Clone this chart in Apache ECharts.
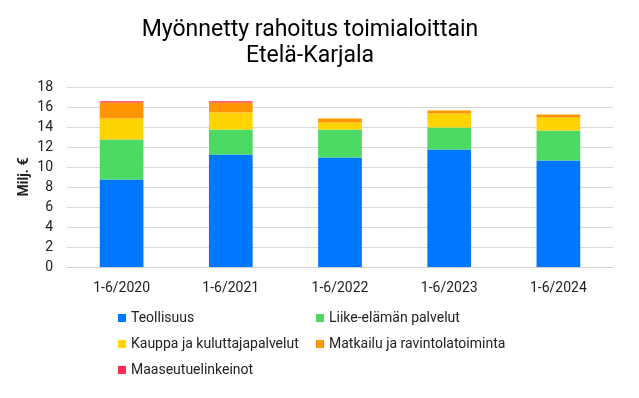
<!DOCTYPE html>
<html>
<head>
<meta charset="utf-8">
<script src="https://cdn.jsdelivr.net/npm/echarts@6/dist/echarts.min.js"></script>
<style>
  html, body { margin: 0; padding: 0; background: #fff; }
  #chart { width: 639px; height: 398px; }
</style>
</head>
<body>
<div id="chart"></div>
<script>
// kaudet ja toimialat
const periods = ['1-6/2020', '1-6/2021', '1-6/2022', '1-6/2023', '1-6/2024']
const teollisuus = [8.75, 11.25, 10.95, 11.75, 10.65]
const liike = [4.0, 2.5, 2.8, 2.2, 3.0]
const kauppa = [2.1, 1.7, 0.7, 1.4, 1.3]
const matkailu = [1.6, 1.0, 0.4, 0.3, 0.3]
const maaseutu = [0.12, 0.12, 0, 0, 0]
const yTicks = [0, 2, 4, 6, 8, 10, 12, 14, 16, 18]

const names = [
  'Teollisuus',
  'Liike-elämän palvelut',
  'Kauppa ja kuluttajapalvelut',
  'Matkailu ja ravintolatoiminta',
  'Maaseutuelinkeinot'
]
const values = [teollisuus, liike, kauppa, matkailu, maaseutu]
const colors = ['#0077ff', '#4cd964', '#ffd300', '#ff9500', '#ff2d55']

const font = 'Roboto, "Noto Sans", sans-serif'
const chart = echarts.init(document.getElementById('chart'))

const legendStyle = {
  orient: 'vertical',
  icon: 'rect',
  itemWidth: 8,
  itemHeight: 8,
  itemGap: 12,
  top: 306,
  textStyle: { fontFamily: font, fontSize: 14, color: '#222' }
}

chart.setOption({
  color: colors,
  animation: false,
  title: {
    text: 'Myönnetty rahoitus toimialoittain\nEtelä-Karjala',
    left: 305,
    top: 12,
    textAlign: 'center',
    textStyle: {
      fontFamily: font,
      fontSize: 23,
      fontWeight: 'normal',
      lineHeight: 26,
      color: '#000'
    }
  },
  legend: [
    Object.assign({ left: 113, data: [names[0], names[2], names[4]] }, legendStyle),
    Object.assign({ left: 311, data: [names[1], names[3]] }, legendStyle)
  ],
  grid: { left: 67, right: 26, top: 87, bottom: 131 },
  xAxis: {
    type: 'category',
    data: periods,
    axisLine: { show: true, lineStyle: { color: '#d0d0d0' } },
    axisTick: { show: false },
    axisLabel: { fontFamily: font, fontSize: 14, color: '#222', margin: 14 }
  },
  yAxis: {
    type: 'value',
    min: yTicks[0],
    max: yTicks[yTicks.length - 1],
    interval: 2,
    name: 'Milj. €',
    nameLocation: 'middle',
    nameGap: 36,
    nameMoveOverlap: false,
    nameTextStyle: { fontFamily: font, fontSize: 14, fontWeight: 'bold', color: '#222' },
    axisLine: { show: false },
    axisTick: { show: false },
    axisLabel: { fontFamily: font, fontSize: 14, color: '#222', margin: 14 },
    splitLine: { lineStyle: { color: '#d9d9d9', width: 1 } }
  },
  series: names.map((name, i) => ({
    name: name,
    type: 'bar',
    stack: 'total',
    barWidth: '40%',
    data: values[i]
  }))
})
</script>
</body>
</html>
